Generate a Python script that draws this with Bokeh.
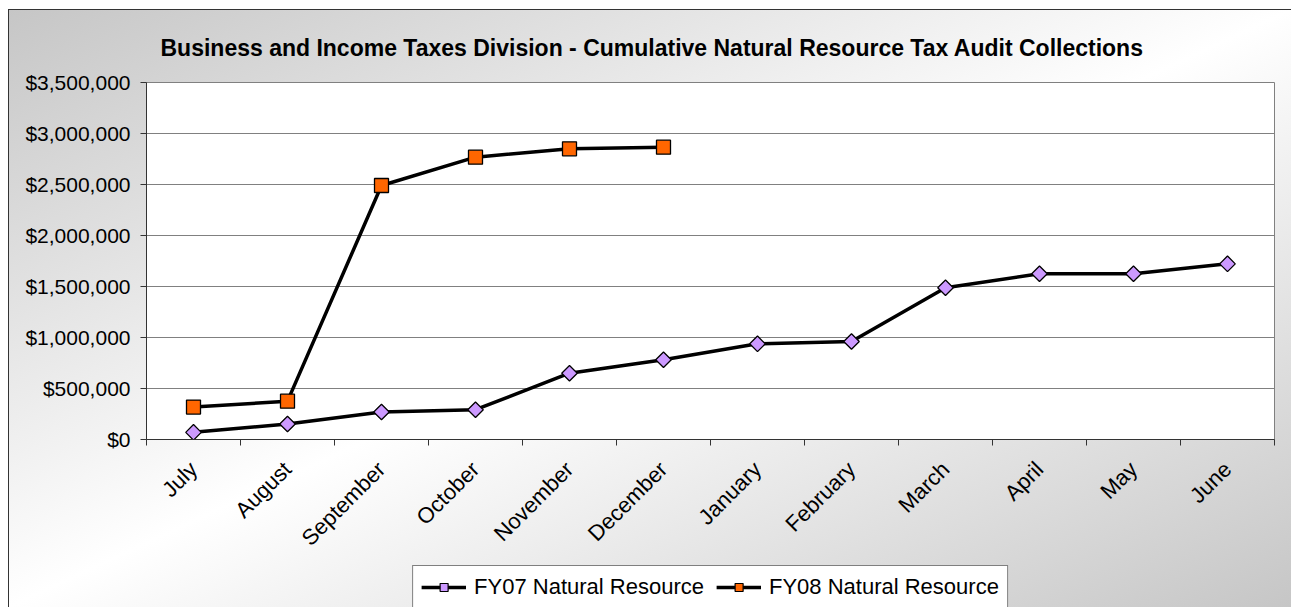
import numpy as np
from bokeh.plotting import figure
from bokeh.layouts import column
from bokeh.models import (Range1d, FixedTicker, NumeralTickFormatter, Legend, LegendItem)
from bokeh.embed import file_html
from bokeh.resources import INLINE

title_text = "Business and Income Taxes Division - Cumulative Natural Resource Tax Audit Collections"
months = ["July", "August", "September", "October", "November", "December",
          "January", "February", "March", "April", "May", "June"]
fy07 = [70000, 152000, 270000, 292000, 650000, 782000,
        938000, 961000, 1488000, 1625000, 1625000, 1722000]
fy08 = [318000, 376000, 2490000, 2768000, 2850000, 2866000]
y_ticks = [0, 500000, 1000000, 1500000, 2000000, 2500000, 3000000, 3500000]
series_names = ["FY07 Natural Resource", "FY08 Natural Resource"]

FONT = "Liberation Sans"
C07 = "#cc99ff"
C08 = "#ff6600"

x07 = np.arange(len(fy07)) + 0.5
x08 = np.arange(len(fy08)) + 0.5

p = figure(width=1282, height=560, output_backend="svg", toolbar_location=None,
           x_range=Range1d(0, len(months)), y_range=Range1d(y_ticks[0], y_ticks[-1]),
           min_border_left=137, min_border_right=17, min_border_top=72, min_border_bottom=131)
p.border_fill_color = None
p.background_fill_color = "white"
p.outline_line_color = "#808080"
p.outline_line_width = 1

p.title.text = title_text
p.title.text_font = FONT
p.title.text_font_size = "23px"
p.title.text_font_style = "bold"
p.title.text_color = "black"
p.title.align = "left"
p.title.offset = 14
p.title.standoff = 44

# x axis: labels at category centres, ticks at boundaries
xa = p.xaxis[0]
xa.ticker = FixedTicker(ticks=list(x07), minor_ticks=list(range(len(months) + 1)))
xa.major_label_overrides = {float(x): m for x, m in zip(x07, months)}
xa.major_tick_line_color = None
xa.minor_tick_line_color = "#333333"
xa.minor_tick_out = 6
xa.minor_tick_in = 0
xa.axis_line_color = "#333333"
xa.major_label_orientation = np.pi / 4
xa.major_label_standoff = 20
xa.major_label_text_font = FONT
xa.major_label_text_font_size = "22px"
xa.major_label_text_color = "black"

ya = p.yaxis[0]
ya.ticker = FixedTicker(ticks=y_ticks)
ya.formatter = NumeralTickFormatter(format="$0,0")
ya.major_tick_out = 6
ya.major_tick_in = 0
ya.minor_tick_line_color = None
ya.axis_line_color = "#333333"
ya.major_tick_line_color = "#333333"
ya.major_label_standoff = 10
ya.major_label_text_font = FONT
ya.major_label_text_font_size = "21px"
ya.major_label_text_color = "black"

p.xgrid.grid_line_color = None
p.ygrid.grid_line_color = "#808080"
p.ygrid.grid_line_width = 1

p.line(x07, fy07, line_color="black", line_width=3.5)
p.scatter(x07, fy07, marker="square", angle=np.pi / 4, size=11,
          fill_color=C07, line_color="black", line_width=1.3)
p.line(x08, fy08, line_color="black", line_width=3.5)
p.scatter(x08, fy08, marker="square", size=14,
          fill_color=C08, line_color="black", line_width=1.3)

# legend strip below the chart; its key renderers use the same series but lie
# outside this strip's (empty) view, so only the legend itself shows
q = figure(width=1282, height=42, output_backend="svg", toolbar_location=None,
           x_axis_type=None, y_axis_type=None,
           x_range=Range1d(0, 1), y_range=Range1d(-2, -1),
           min_border_left=137, min_border_right=17, min_border_top=0, min_border_bottom=0)
q.border_fill_color = None
q.background_fill_color = None
q.outline_line_color = None
q.styles = {"margin-top": "-5px"}

k07l = q.line(x07, fy07, line_color="black", line_width=3.5)
k07m = q.scatter(x07, fy07, marker="square", angle=np.pi / 4, size=9,
                 fill_color=C07, line_color="black", line_width=1.2)
k08l = q.line(x08, fy08, line_color="black", line_width=3.5)
k08m = q.scatter(x08, fy08, marker="square", size=11,
                 fill_color=C08, line_color="black", line_width=1.2)

legend = Legend(items=[LegendItem(label=series_names[0], renderers=[k07l, k07m]),
                       LegendItem(label=series_names[1], renderers=[k08l, k08m])],
                location="top_center", orientation="horizontal",
                label_text_font=FONT, label_text_font_size="22px", label_text_color="black",
                glyph_width=45, glyph_height=20, label_standoff=8, spacing=12,
                padding=8, margin=0,
                border_line_color="black", border_line_width=1,
                background_fill_color="white", background_fill_alpha=1)
q.add_layout(legend, "center")

layout = column(p, q, spacing=0)
layout.styles = {
    "background": "linear-gradient(to bottom right, #c6c6c6 0%, #ffffff 50%, #c6c6c6 100%)",
    "border-left": "1px solid #333333",
    "border-top": "1px solid #333333",
    "margin-left": "8px",
    "margin-top": "9px",
}

open("out.html", "w").write(file_html(layout, INLINE))
